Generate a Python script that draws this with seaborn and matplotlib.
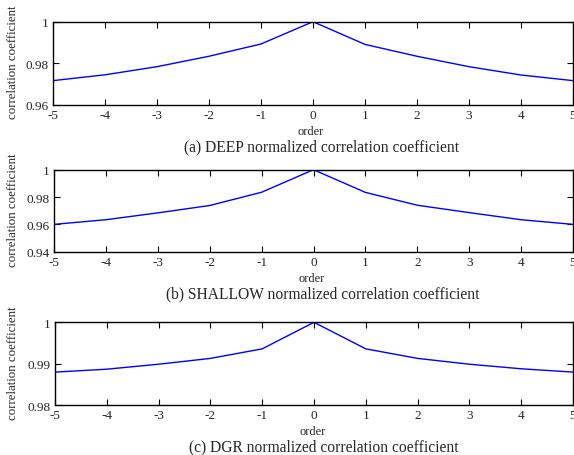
import numpy as np
import pandas as pd
import seaborn as sns
import matplotlib
matplotlib.use("Agg")
import matplotlib.pyplot as plt

orders = [-5, -4, -3, -2, -1, 0, 1, 2, 3, 4, 5]
deep = [0.9717, 0.9745, 0.9784, 0.9834, 0.9893, 1.0, 0.9891, 0.9834, 0.9784, 0.9744, 0.9717]
shallow = [0.9600, 0.9634, 0.9684, 0.9738, 0.9835, 1.0, 0.9834, 0.9740, 0.9686, 0.9634, 0.9600]
dgr = [0.9880, 0.9887, 0.9899, 0.9913, 0.9936, 1.0, 0.9936, 0.9913, 0.9899, 0.9888, 0.9880]
titles = ["(a) DEEP normalized correlation coefficient",
          "(b) SHALLOW normalized correlation coefficient",
          "(c) DGR normalized correlation coefficient"]
ylims = [(0.96, 1.0), (0.94, 1.0), (0.98, 1.0)]
yticks = [[0.96, 0.98, 1.0], [0.94, 0.96, 0.98, 1.0], [0.98, 0.99, 1.0]]
yticklabels = [["0.96", "0.98", "1"], ["0.94", "0.96", "0.98", "1"], ["0.98", "0.99", "1"]]
xticklabels = ["-5", "-4", "-3", "-2", "-1", "0", "1", "2", "3", "4", "5"]

sns.set_style("ticks")
plt.rcParams["font.family"] = ["Liberation Serif", "DejaVu Serif"]
plt.rcParams["xtick.direction"] = "in"
plt.rcParams["ytick.direction"] = "in"

W, H = 574, 456
fig = plt.figure(figsize=(W / 100, H / 100), dpi=100)
fig.patch.set_facecolor("white")

# (left px, top px, right px, bottom px)
boxes = [(53, 22.7, 573, 106), (54, 170.7, 573, 252.7), (55, 323.3, 573, 406.3)]
series = [deep, shallow, dgr]

for i, (box, vals) in enumerate(zip(boxes, series)):
    l, t, r, b = box
    ax = fig.add_axes([l / W, 1 - b / H, (r - l) / W, (b - t) / H])
    df = pd.DataFrame({"order": orders, "value": vals})
    sns.lineplot(data=df, x="order", y="value", ax=ax, color="#0000ff", linewidth=1.0)
    ax.set_xlim(-5, 5)
    ax.set_ylim(*ylims[i])
    ax.set_xticks(orders)
    ax.set_xticklabels(xticklabels, fontsize=9.5)
    ax.set_yticks(yticks[i])
    ax.set_yticklabels(yticklabels[i], fontsize=9.5)
    ax.tick_params(top=True, right=True, length=4, width=0.8, pad=3, color="black")
    for s in ax.spines.values():
        s.set_visible(True)
        s.set_linewidth(1.0)
        s.set_color("black")
    ax.set_xlabel("")
    ax.set_ylabel("correlation coefficient", fontsize=9.3)
    ax.yaxis.set_label_coords(-(l - 19) / (r - l), 0.52)
    fig.text((l + 258) / W, 1 - (b + 26) / H, "order", ha="center", va="center", fontsize=9)
    fig.text((l + 269) / W, 1 - (b + 41.5) / H, titles[i], ha="center", va="center", fontsize=11.2)

fig.savefig("out.png", dpi=100, facecolor="white")
